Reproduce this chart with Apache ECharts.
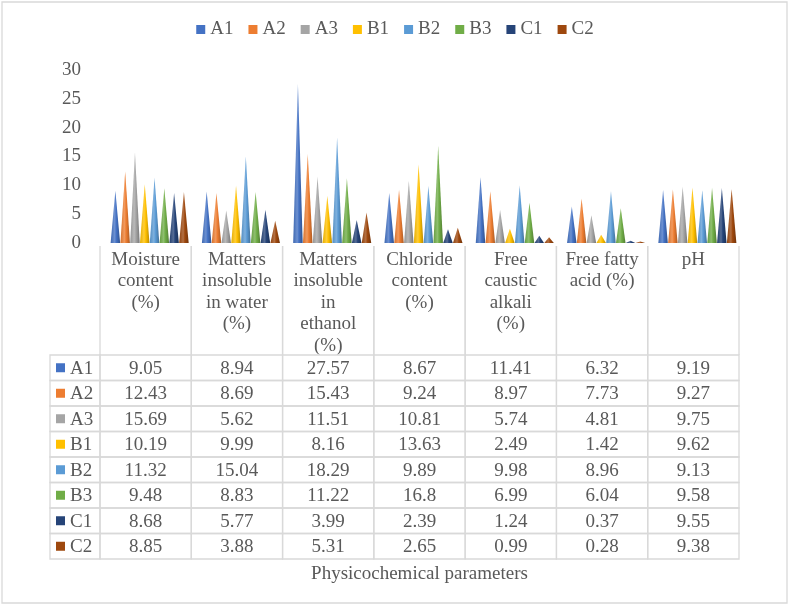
<!DOCTYPE html>
<html><head><meta charset="utf-8">
<script src="https://cdn.jsdelivr.net/npm/echarts@6/dist/echarts.min.js"></script>
<style>html,body{margin:0;padding:0;background:#fff}#c{width:790px;height:607px}</style>
</head><body><div id="c"></div>
<script>
// ---- data ----
const categories = ['Moisture\ncontent\n(%)', 'Matters\ninsoluble\nin water\n(%)', 'Matters\ninsoluble\nin\nethanol\n(%)', 'Chloride\ncontent\n(%)', 'Free\ncaustic\nalkali\n(%)', 'Free fatty\nacid (%)', 'pH'];
const seriesNames = ['A1', 'A2', 'A3', 'B1', 'B2', 'B3', 'C1', 'C2'];
const A1 = [9.05, 8.94, 27.57, 8.67, 11.41, 6.32, 9.19];
const A2 = [12.43, 8.69, 15.43, 9.24, 8.97, 7.73, 9.27];
const A3 = [15.69, 5.62, 11.51, 10.81, 5.74, 4.81, 9.75];
const B1 = [10.19, 9.99, 8.16, 13.63, 2.49, 1.42, 9.62];
const B2 = [11.32, 15.04, 18.29, 9.89, 9.98, 8.96, 9.13];
const B3 = [9.48, 8.83, 11.22, 16.8, 6.99, 6.04, 9.58];
const C1 = [8.68, 5.77, 3.99, 2.39, 1.24, 0.37, 9.55];
const C2 = [8.85, 3.88, 5.31, 2.65, 0.99, 0.28, 9.38];
const yMin = 0, yMax = 30, yStep = 5;
const axisTitle = 'Physicochemical parameters';
const colors = ['#4472C4', '#ED7D31', '#A5A5A5', '#FFC000', '#5B9BD5', '#70AD47', '#264478', '#9E480E'];

// ---- build ----
const seriesValues = [A1, A2, A3, B1, B2, B3, C1, C2];
const FONT = 'Liberation Serif';
const FS = 19;
const TXT = '#595959';
const LINE = '#d9d9d9';

function shade(hex, f) {
  const n = parseInt(hex.slice(1), 16);
  let r = n >> 16, g = (n >> 8) & 255, b = n & 255;
  const t = f < 0 ? 0 : 255, p = Math.abs(f);
  r = Math.round((t - r) * p + r); g = Math.round((t - g) * p + g); b = Math.round((t - b) * p + b);
  return 'rgb(' + r + ',' + g + ',' + b + ')';
}
function coneFill(c) {
  return { type: 'linear', x: 0, y: 0, x2: 1, y2: 0, colorStops: [
    { offset: 0, color: shade(c, -0.1) },
    { offset: 0.42, color: shade(c, 0.22) },
    { offset: 0.6, color: c },
    { offset: 1, color: shade(c, -0.28) }
  ] };
}

const coneSeries = seriesNames.map((name, i) => ({
  name: name,
  type: 'pictorialBar',
  xAxisIndex: 0, yAxisIndex: 0,
  symbol: 'triangle',
  symbolSize: ['100%', '100%'],
  barCategoryGap: '14.5%',
  barGap: '3%',
  itemStyle: { color: coneFill(colors[i]) },
  data: seriesValues[i]
}));

const headerSeries = {
  type: 'custom', xAxisIndex: 1, yAxisIndex: 1, silent: true,
  data: categories.map((c, i) => [i, 0]),
  renderItem: function (params, api) {
    const p = api.coord([api.value(0), api.value(1)]);
    const s = api.size([1, 1]);
    const l = p[0] - s[0] / 2, r = p[0] + s[0] / 2, t = p[1] - s[1] / 2, b = p[1] + s[1] / 2;
    return { type: 'group', children: [
      { type: 'line', shape: { x1: l, y1: t + 3, x2: l, y2: b }, style: { stroke: LINE, lineWidth: 1.3 } },
      { type: 'line', shape: { x1: r, y1: t + 3, x2: r, y2: b }, style: { stroke: LINE, lineWidth: 1.3 } },
      { type: 'text', x: p[0], y: t + 6, style: {
        text: categories[params.dataIndex],
        align: 'center', verticalAlign: 'top', fontFamily: FONT, fontSize: FS, lineHeight: 21.5, fill: TXT } }
    ] };
  }
};

const bodyData = [];
seriesValues.forEach((vals, r) => vals.forEach((v, c) => bodyData.push([c, r, v])));
const bodySeries = {
  type: 'custom', xAxisIndex: 2, yAxisIndex: 2, silent: true,
  data: bodyData,
  renderItem: function (params, api) {
    const p = api.coord([api.value(0), api.value(1)]);
    const s = api.size([1, 1]);
    return { type: 'group', children: [
      { type: 'rect', shape: { x: p[0] - s[0] / 2, y: p[1] - s[1] / 2, width: s[0], height: s[1] }, style: { fill: 'none', stroke: LINE, lineWidth: 1.3 } },
      { type: 'text', x: p[0], y: p[1] + 1, style: { text: String(api.value(2)), align: 'center', verticalAlign: 'middle', fontFamily: FONT, fontSize: FS, fill: TXT } }
    ] };
  }
};

const keySeries = {
  type: 'custom', xAxisIndex: 3, yAxisIndex: 3, silent: true,
  data: seriesNames.map((n, r) => [0, r]),
  renderItem: function (params, api) {
    const p = api.coord([api.value(0), api.value(1)]);
    const s = api.size([1, 1]);
    const l = p[0] - s[0] / 2;
    return { type: 'group', children: [
      { type: 'rect', shape: { x: l, y: p[1] - s[1] / 2, width: s[0], height: s[1] }, style: { fill: 'none', stroke: LINE, lineWidth: 1.3 } },
      { type: 'rect', shape: { x: l + 6, y: p[1] - 4.5, width: 9, height: 9 }, style: { fill: colors[params.dataIndex] } },
      { type: 'text', x: l + 20, y: p[1] + 1, style: { text: seriesNames[params.dataIndex], align: 'left', verticalAlign: 'middle', fontFamily: FONT, fontSize: FS, fill: TXT } }
    ] };
  }
};

const hidden = { axisLine: { show: false }, axisTick: { show: false }, axisLabel: { show: false }, splitLine: { show: false } };

const option = {
  animation: false,
  backgroundColor: '#fff',
  graphic: [{ type: 'rect', shape: { x: 2, y: 2, width: 785, height: 601 }, style: { fill: 'none', stroke: LINE, lineWidth: 1.3 }, silent: true }],
  legend: {
    top: 15, left: 'center', icon: 'rect', itemWidth: 9, itemHeight: 9, itemGap: 15,
    textStyle: { fontFamily: FONT, fontSize: FS, color: TXT },
    data: seriesNames.map((n, i) => ({ name: n, itemStyle: { color: colors[i] } }))
  },
  grid: [
    { left: 104, width: 639, top: 70, height: 173 },
    { left: 100, width: 639, top: 243, height: 112 },
    { left: 100, width: 639, top: 355, height: 204 },
    { left: 50, width: 50, top: 355, height: 204 }
  ],
  xAxis: [
    Object.assign({ type: 'category', gridIndex: 0, data: categories }, hidden),
    Object.assign({ type: 'category', gridIndex: 1, data: categories }, hidden),
    Object.assign({ type: 'category', gridIndex: 2, data: categories, name: axisTitle, nameLocation: 'middle', nameGap: 6,
      nameTextStyle: { fontFamily: FONT, fontSize: FS, color: TXT } }, hidden),
    Object.assign({ type: 'category', gridIndex: 3, data: ['key'] }, hidden)
  ],
  yAxis: [
    { type: 'value', gridIndex: 0, min: yMin, max: yMax, interval: yStep,
      axisLine: { show: false }, axisTick: { show: false }, splitLine: { show: false },
      axisLabel: { fontFamily: FONT, fontSize: FS, color: TXT, margin: 23 } },
    Object.assign({ type: 'category', gridIndex: 1, data: ['header'] }, hidden),
    Object.assign({ type: 'category', gridIndex: 2, data: seriesNames, inverse: true }, hidden),
    Object.assign({ type: 'category', gridIndex: 3, data: seriesNames, inverse: true }, hidden)
  ],
  series: coneSeries.concat([headerSeries, bodySeries, keySeries])
};

const chart = echarts.init(document.getElementById('c'), null, { renderer: 'canvas' });
chart.setOption(option);
</script>
</body></html>
